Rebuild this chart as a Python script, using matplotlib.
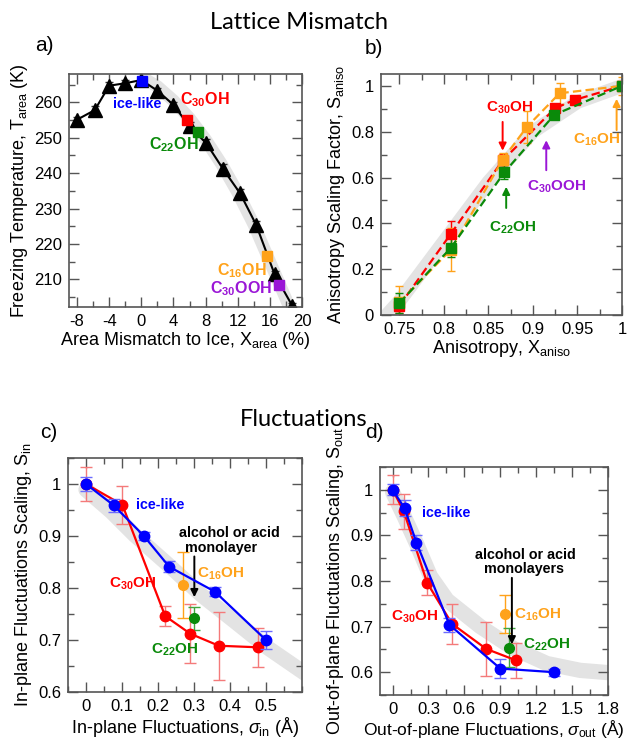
import matplotlib
matplotlib.use("Agg")
import matplotlib.pyplot as plt
from matplotlib.ticker import MultipleLocator

plt.rcParams["font.family"] = ["Liberation Sans", "DejaVu Sans"]
plt.rcParams["mathtext.fontset"] = "custom"
plt.rcParams["mathtext.rm"] = "Liberation Sans"
plt.rcParams["mathtext.it"] = "Liberation Sans:italic"
plt.rcParams["mathtext.bf"] = "Liberation Sans:bold"

BLUE = "#0000ff"
RED = "#ff0000"
GREEN = "#0a8a0a"
ORANGE = "#ffa21a"
PURPLE = "#9a16d6"
BAND = "#e3e3e3"

# ---- a) lattice mismatch ----
area_x = [-8, -5.8, -4, -2, 0, 2, 4, 6, 8.1, 10.2, 12.3, 14.3, 16.6, 18.8]
area_T = [255.1, 257.8, 264.7, 265.4, 266.3, 263.3, 259.3, 253.2, 248.4, 241.1, 234.3, 225.4, 211.4, 202.5]
area_err = [0.8, 1.2, 1.0, 0.8, 0.8, 0.8, 0.9, 1.2, 1.2, 1.5, 1.2, 1.0, 1.0, 0.8]
area_band_x = [0.5, 2, 4, 6, 8, 10, 12, 14, 16, 18, 19.5]
area_band_T = [266.5, 264.5, 260.5, 255.5, 249.5, 242.5, 234.5, 225.5, 215, 204.5, 196]
area_mono_names = ["ice-like", "C30OH", "C22OH", "C16OH", "C30OOH"]
area_mono_x = [0.05, 5.7, 7.05, 15.6, 17.1]
area_mono_T = [266.1, 255.1, 251.5, 216.6, 208.4]

# ---- b) anisotropy ----
aniso_red_x = [0.75, 0.808, 0.866, 0.925, 0.947, 1.0]
aniso_red_S = [0.04, 0.355, 0.675, 0.903, 0.939, 1.0]
aniso_red_err = [0.03, 0.055, 0.03, 0.015, 0.015, 0.01]
aniso_orange_x = [0.75, 0.808, 0.866, 0.893, 0.93, 1.0]
aniso_orange_S = [0.055, 0.285, 0.678, 0.82, 0.968, 1.0]
aniso_orange_err = [0.07, 0.095, 0.03, 0.07, 0.045, 0.04]
aniso_green_x = [0.75, 0.808, 0.868, 0.924, 1.0]
aniso_green_S = [0.052, 0.294, 0.623, 0.874, 1.0]
aniso_green_err = [0.045, 0.04, 0.03, 0.015, 0.01]
aniso_band_x = [0.736, 0.75, 0.8, 0.85, 0.9, 0.95, 1.0]
aniso_band_S = [0.0, 0.06, 0.32, 0.58, 0.8, 0.93, 1.0]

# ---- c) in-plane fluctuations ----
inp_blue_x = [0, 0.077, 0.161, 0.231, 0.358, 0.5]
inp_blue_S = [1.0, 0.959, 0.9, 0.841, 0.793, 0.70]
inp_blue_err = [0.013, 0.012, 0.008, 0.01, 0.008, 0.017]
inp_red_x = [0, 0.101, 0.22, 0.29, 0.369, 0.478]
inp_red_S = [1.0, 0.96, 0.746, 0.712, 0.689, 0.686]
inp_red_err = [0.033, 0.037, 0.02, 0.057, 0.065, 0.038]
inp_c16 = (0.269, 0.806, 0.064)
inp_c22 = (0.3, 0.742, 0.022)
inp_band_x = [0, 0.07, 0.135, 0.228, 0.32, 0.413, 0.505, 0.61]
inp_band_S = [0.989, 0.947, 0.902, 0.845, 0.787, 0.736, 0.685, 0.635]

# ---- d) out-of-plane fluctuations ----
out_blue_x = [0, 0.1, 0.2, 0.475, 0.9, 1.347]
out_blue_S = [1.0, 0.96, 0.884, 0.704, 0.608, 0.6]
out_blue_err = [0.012, 0.018, 0.016, 0.015, 0.02, 0.008]
out_red_x = [0, 0.094, 0.289, 0.497, 0.783, 1.031]
out_red_S = [1.0, 0.953, 0.796, 0.706, 0.651, 0.626]
out_red_err = [0.032, 0.038, 0.027, 0.044, 0.06, 0.038]
out_c16 = (0.942, 0.728, 0.042)
out_c22 = (0.969, 0.654, 0.043)
out_band_x = [0, 0.1, 0.2, 0.317, 0.456, 0.733, 1.011, 1.289, 1.567, 1.85]
out_band_S = [0.995, 0.94, 0.882, 0.81, 0.758, 0.7, 0.652, 0.619, 0.604, 0.598]

XLAB = 13
YLAB = 13
TICK = 12
CLAB = 11      # C30OH etc.
BLAB = 10.3    # ice-like, alcohol or acid
ARROW = dict(arrowstyle="-|>", lw=1.4, mutation_scale=11)


def style(ax, xmaj, xmin, ymaj, ymin):
    ax.xaxis.set_major_locator(MultipleLocator(xmaj))
    ax.xaxis.set_minor_locator(MultipleLocator(xmin))
    ax.yaxis.set_major_locator(MultipleLocator(ymaj))
    ax.yaxis.set_minor_locator(MultipleLocator(ymin))
    ax.tick_params(which="both", direction="in", top=True, right=True,
                   labelsize=TICK, color="#555555", width=1)
    ax.tick_params(which="major", length=7, pad=5)
    ax.tick_params(which="minor", length=4)
    for s in ax.spines.values():
        s.set_color("#555555")
        s.set_linewidth(1.2)


def num(v):
    return ("%g" % v)


fig = plt.figure(figsize=(6.29, 7.41), dpi=100)

fig.text(0.475, 0.969, "Lattice Mismatch", ha="center", va="center",
         fontsize=17, family=["Lato", "DejaVu Sans"])
fig.text(0.483, 0.4345, "Fluctuations", ha="center", va="center",
         fontsize=17, family=["Lato", "DejaVu Sans"])

# a)
ax = fig.add_axes([0.1097, 0.5857, 0.3704, 0.3144])
ax.plot(area_band_x, area_band_T, color=BAND, lw=9, solid_capstyle="round", zorder=0)
ax.errorbar(area_x, area_T, yerr=area_err, color="black", lw=1.5, marker="^",
            ms=9.5, capsize=3, elinewidth=1, ecolor="#333333", zorder=2)
mono_colors = [BLUE, RED, GREEN, ORANGE, PURPLE]
for xv, tv, c in zip(area_mono_x, area_mono_T, mono_colors):
    ax.plot(xv, tv, "s", color=c, ms=6.5, zorder=3)
ax.text(-0.5, 259.4, "ice-like", color=BLUE, fontsize=BLAB, weight="bold", ha="center", va="center")
ax.text(7.9, 260.8, r"$\mathbf{C_{30}OH}$", color=RED, fontsize=CLAB + 0.5, ha="center", va="center")
ax.text(4.1, 248.0, r"$\mathbf{C_{22}OH}$", color=GREEN, fontsize=CLAB + 0.5, ha="center", va="center")
ax.text(12.5, 212.6, r"$\mathbf{C_{16}OH}$", color=ORANGE, fontsize=CLAB + 0.5, ha="center", va="center")
ax.text(12.4, 207.4, r"$\mathbf{C_{30}OOH}$", color=PURPLE, fontsize=CLAB + 0.5, ha="center", va="center")
ax.set_xlim(-9, 20)
ax.set_ylim(202.2, 268)
style(ax, 4, 2, 10, 5)
ax.set_xticks([-8, -4, 0, 4, 8, 12, 16, 20])
ax.set_xticklabels([num(v) for v in [-8, -4, 0, 4, 8, 12, 16, 20]])
ax.set_xlabel(r"Area Mismatch to Ice, X$_{\rm area}$ (%)", fontsize=XLAB, labelpad=1)
ax.set_ylabel(r"Freezing Temperature, T$_{\rm area}$ (K)", fontsize=YLAB, labelpad=3)
fig.text(0.056, 0.939, "a)", fontsize=15, ha="left", va="center")

# b)
ax = fig.add_axes([0.6057, 0.5749, 0.3831, 0.3252])
ax.plot(aniso_band_x, aniso_band_S, color=BAND, lw=10, solid_capstyle="round", zorder=0)
for xs, ys, es, c in [(aniso_red_x, aniso_red_S, aniso_red_err, RED),
                      (aniso_orange_x, aniso_orange_S, aniso_orange_err, ORANGE),
                      (aniso_green_x, aniso_green_S, aniso_green_err, GREEN)]:
    ax.errorbar(xs, ys, yerr=es, color=c, ls=(0, (3.8, 1.9)), lw=1.6, marker="s", ms=6.5,
                capsize=3, elinewidth=1, zorder=2)
ax.text(0.8735, 0.905, r"$\mathbf{C_{30}OH}$", color=RED, fontsize=CLAB, ha="center", va="center")
ax.annotate("", xy=(0.866, 0.705), xytext=(0.866, 0.855), arrowprops=dict(ARROW, color=RED))
ax.text(0.877, 0.38, r"$\mathbf{C_{22}OH}$", color=GREEN, fontsize=CLAB, ha="center", va="center")
ax.annotate("", xy=(0.870, 0.572), xytext=(0.870, 0.455), arrowprops=dict(ARROW, color=GREEN))
ax.text(0.926, 0.56, r"$\mathbf{C_{30}OOH}$", color=PURPLE, fontsize=CLAB, ha="center", va="center")
ax.annotate("", xy=(0.915, 0.775), xytext=(0.915, 0.62), arrowprops=dict(ARROW, color=PURPLE))
ax.text(0.972, 0.765, r"$\mathbf{C_{16}OH}$", color=ORANGE, fontsize=CLAB, ha="center", va="center")
ax.annotate("", xy=(0.994, 0.956), xytext=(0.994, 0.795), arrowprops=dict(ARROW, color=ORANGE))
ax.set_xlim(0.7294, 1.0)
ax.set_ylim(0, 1.052)
style(ax, 0.05, 0.025, 0.2, 0.1)
ax.set_xticks([0.75, 0.8, 0.85, 0.9, 0.95, 1.0])
ax.set_xticklabels([num(v) for v in [0.75, 0.8, 0.85, 0.9, 0.95, 1.0]])
ax.set_yticks([0, 0.2, 0.4, 0.6, 0.8, 1.0])
ax.set_yticklabels([num(v) for v in [0, 0.2, 0.4, 0.6, 0.8, 1.0]])
ax.set_xlabel(r"Anisotropy, X$_{\rm aniso}$", fontsize=XLAB, labelpad=1)
ax.set_ylabel(r"Anisotropy Scaling Factor, S$_{\rm aniso}$", fontsize=YLAB, labelpad=3)
fig.text(0.58, 0.935, "b)", fontsize=15, ha="left", va="center")

# c)
ax = fig.add_axes([0.1081, 0.0661, 0.372, 0.3158])
ax.plot(inp_band_x, inp_band_S, color=BAND, lw=11, solid_capstyle="round", zorder=0)
ax.errorbar(inp_red_x, inp_red_S, yerr=inp_red_err, color=RED, lw=1.6, marker="o", ms=7.5,
            capsize=4.5, elinewidth=1, ecolor="#f47a7a", zorder=2)
ax.errorbar(inp_blue_x, inp_blue_S, yerr=inp_blue_err, color=BLUE, lw=1.6, marker="o", ms=7.5,
            capsize=4.5, elinewidth=1, ecolor="#6b6bff", zorder=3)
ax.errorbar([inp_c16[0]], [inp_c16[1]], yerr=[inp_c16[2]], color=ORANGE, marker="o", ms=7,
            capsize=4, elinewidth=1, zorder=2)
ax.errorbar([inp_c22[0]], [inp_c22[1]], yerr=[inp_c22[2]], color=GREEN, marker="o", ms=7,
            capsize=4, elinewidth=1, ecolor="#3fa63f", zorder=2)
ax.text(0.207, 0.96, "ice-like", color=BLUE, fontsize=BLAB, weight="bold", ha="center", va="center")
ax.text(0.397, 0.905, "alcohol or acid", color="black", fontsize=BLAB, weight="bold", ha="center", va="center")
ax.text(0.374, 0.876, "monolayer", color="black", fontsize=BLAB, weight="bold", ha="center", va="center")
ax.annotate("", xy=(0.301, 0.777), xytext=(0.301, 0.866), arrowprops=dict(ARROW, color="black"))
ax.text(0.374, 0.827, r"$\mathbf{C_{16}OH}$", color=ORANGE, fontsize=CLAB, ha="center", va="center")
ax.text(0.129, 0.808, r"$\mathbf{C_{30}OH}$", color=RED, fontsize=CLAB, ha="center", va="center")
ax.text(0.245, 0.682, r"$\mathbf{C_{22}OH}$", color=GREEN, fontsize=CLAB, ha="center", va="center")
ax.set_xlim(-0.05, 0.6)
ax.set_ylim(0.6, 1.05)
style(ax, 0.1, 0.05, 0.1, 0.05)
ax.set_xticks([0, 0.1, 0.2, 0.3, 0.4, 0.5])
ax.set_xticklabels([num(v) for v in [0, 0.1, 0.2, 0.3, 0.4, 0.5]])
ax.set_yticks([0.6, 0.7, 0.8, 0.9, 1.0])
ax.set_yticklabels([num(v) for v in [0.6, 0.7, 0.8, 0.9, 1.0]])
ax.set_xlabel(r"In-plane Fluctuations, $\sigma_{\rm in}$ (Å)", fontsize=XLAB, labelpad=1)
ax.set_ylabel(r"In-plane Fluctuations Scaling, S$_{\rm in}$", fontsize=YLAB, labelpad=3)
fig.text(0.064, 0.4157, "c)", fontsize=15, ha="left", va="center")

# d)
ax = fig.add_axes([0.6041, 0.0621, 0.3625, 0.3077])
ax.plot(out_band_x, out_band_S, color=BAND, lw=11, solid_capstyle="round", zorder=0)
ax.errorbar(out_red_x, out_red_S, yerr=out_red_err, color=RED, lw=1.6, marker="o", ms=7.5,
            capsize=4.5, elinewidth=1, ecolor="#f47a7a", zorder=2)
ax.errorbar(out_blue_x, out_blue_S, yerr=out_blue_err, color=BLUE, lw=1.6, marker="o", ms=7.5,
            capsize=4.5, elinewidth=1, ecolor="#6b6bff", zorder=3)
ax.errorbar([out_c16[0]], [out_c16[1]], yerr=[out_c16[2]], color=ORANGE, marker="o", ms=7,
            capsize=4, elinewidth=1, zorder=2)
ax.errorbar([out_c22[0]], [out_c22[1]], yerr=[out_c22[2]], color=GREEN, marker="o", ms=7,
            capsize=4, elinewidth=1, ecolor="#3fa63f", zorder=2)
ax.text(0.45, 0.948, "ice-like", color=BLUE, fontsize=BLAB, weight="bold", ha="center", va="center")
ax.text(1.108, 0.858, "alcohol or acid", color="black", fontsize=BLAB, weight="bold", ha="center", va="center")
ax.text(1.096, 0.827, "monolayers", color="black", fontsize=BLAB, weight="bold", ha="center", va="center")
ax.annotate("", xy=(0.997, 0.655), xytext=(0.997, 0.813), arrowprops=dict(ARROW, color="black"))
ax.text(1.21, 0.726, r"$\mathbf{C_{16}OH}$", color=ORANGE, fontsize=CLAB, ha="center", va="center")
ax.text(1.285, 0.66, r"$\mathbf{C_{22}OH}$", color=GREEN, fontsize=CLAB, ha="center", va="center")
ax.text(0.186, 0.722, r"$\mathbf{C_{30}OH}$", color=RED, fontsize=CLAB, ha="center", va="center")
ax.set_xlim(-0.105, 1.8)
ax.set_ylim(0.55, 1.05)
style(ax, 0.3, 0.15, 0.1, 0.05)
ax.set_xticks([0, 0.3, 0.6, 0.9, 1.2, 1.5, 1.8])
ax.set_xticklabels([num(v) for v in [0, 0.3, 0.6, 0.9, 1.2, 1.5, 1.8]])
ax.set_yticks([0.6, 0.7, 0.8, 0.9, 1.0])
ax.set_yticklabels([num(v) for v in [0.6, 0.7, 0.8, 0.9, 1.0]])
ax.set_xlabel(r"Out-of-plane Fluctuations, $\sigma_{\rm out}$ (Å)", fontsize=XLAB - 0.5, labelpad=1)
ax.set_ylabel(r"Out-of-plane Fluctuations Scaling, S$_{\rm out}$", fontsize=YLAB, labelpad=3)
fig.text(0.58, 0.4157, "d)", fontsize=15, ha="left", va="center")

plt.savefig("out.png", dpi=100)
